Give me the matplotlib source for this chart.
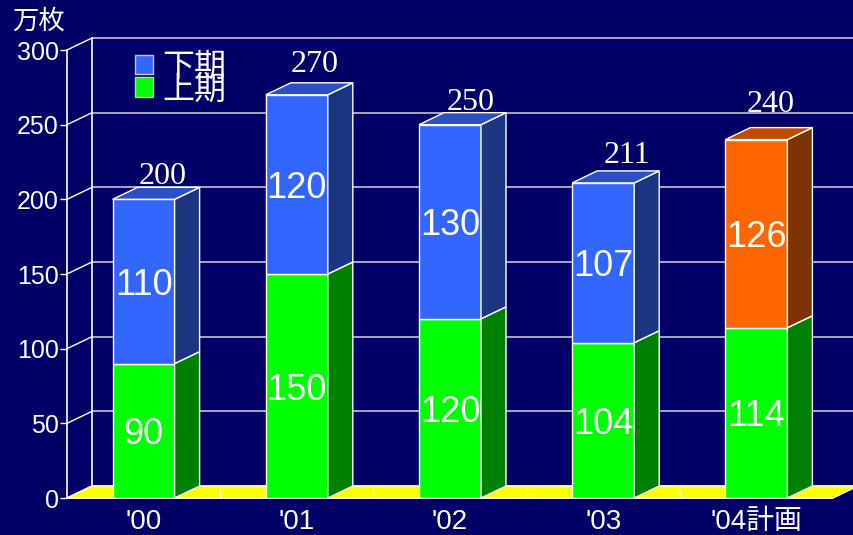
import numpy as np
import matplotlib
matplotlib.use("Agg")
import matplotlib.pyplot as plt
from matplotlib.patches import Polygon, Patch

plt.rcParams['font.family'] = ['Liberation Sans', 'Noto Sans CJK JP']

# 枚数 (万枚)
years = ["'00", "'01", "'02", "'03", "'04計画"]
first_half = [90, 150, 120, 104, 114]     # 上期
second_half = [110, 120, 130, 107, 126]   # 下期
totals = [a + b for a, b in zip(first_half, second_half)]
y_ticks = [0, 50, 100, 150, 200, 250, 300]

BG = "#000066"
GRID = "#D4D4D4"
GREEN, GREEN_SIDE = "#00FF00", "#008000"
BLUE, BLUE_SIDE, BLUE_TOP = "#3366FF", "#1C3580", "#2A50C4"
ORANGE, ORANGE_SIDE, ORANGE_TOP = "#FF6600", "#7F3300", "#C04C00"

W_PX, H_PX = 854, 535
fig = plt.figure(figsize=(W_PX / 100, H_PX / 100), dpi=100, facecolor=BG)
ax = fig.add_axes([67 / W_PX, 37 / H_PX, 766 / W_PX, 448 / H_PX])
ax.set_facecolor("none")
ax.set_xlim(-0.5, 4.5)
ax.set_ylim(0, 300)

px_x = 766 / 5          # pixels per category
px_y = 448 / 300        # pixels per unit
DX = 25 / px_x          # depth offset of the 3-D box
DY = 12 / px_y
BW = 62 / px_x          # bar width

x = np.arange(len(years))
x0, x1 = -0.5, 4.5

# floor
ax.add_patch(Polygon([(x0, 0), (x1, 0), (x1 + DX, DY), (x0 + DX, DY)],
                     closed=True, fc="#FFFF00", ec="white", lw=1, zorder=1,
                     clip_on=False))

# back wall grid and left side wall
for v in y_ticks:
    ax.plot([x0 + DX, x1 + DX], [v + DY, v + DY], color=GRID, lw=1.1,
            zorder=0.5, clip_on=False)
    ax.plot([x0, x0 + DX], [v, v + DY], color="white", lw=1, zorder=0.5,
            clip_on=False)
ax.plot([x0 + DX, x0 + DX], [DY, 300 + DY], color="white", lw=1.2,
        zorder=0.6, clip_on=False)

# front faces
top_colors = [BLUE] * 4 + [ORANGE]
ax.bar(x, first_half, BW, color=GREEN, edgecolor="white", lw=1, zorder=3)
ax.bar(x, second_half, BW, bottom=first_half, color=top_colors,
       edgecolor="white", lw=1, zorder=3)

# side and top faces
side_colors = [BLUE_SIDE] * 4 + [ORANGE_SIDE]
roof_colors = [BLUE_TOP] * 4 + [ORANGE_TOP]
for i in range(len(years)):
    r = x[i] + BW / 2
    l = x[i] - BW / 2
    segs = [(0, first_half[i], GREEN_SIDE),
            (first_half[i], totals[i], side_colors[i])]
    for b, t, c in segs:
        ax.add_patch(Polygon([(r, b), (r + DX, b + DY), (r + DX, t + DY), (r, t)],
                             closed=True, fc=c, ec="white", lw=1, zorder=3,
                             clip_on=False))
    t = totals[i]
    ax.add_patch(Polygon([(l, t), (r, t), (r + DX, t + DY), (l + DX, t + DY)],
                         closed=True, fc=roof_colors[i], ec="white", lw=1,
                         zorder=3, clip_on=False))

# values inside the segments
drop = 4 / px_y
for i in range(len(years)):
    ax.text(x[i], first_half[i] / 2 - drop, str(first_half[i]), ha="center",
            va="center", color="white", fontsize=26, zorder=5)
    ax.text(x[i], first_half[i] + second_half[i] / 2 - drop, str(second_half[i]),
            ha="center", va="center", color="white", fontsize=26, zorder=5)

# totals above the bars
nudge_x = [19, 18, 21, 24, 14]
nudge_y = [3, 11, 3, 8, 16]
for i in range(len(years)):
    ax.text(x[i] + nudge_x[i] / px_x, totals[i] + DY + nudge_y[i] / px_y,
            str(totals[i]), ha="center", va="baseline", color="white",
            fontsize=23, family="Liberation Serif", zorder=5)

# axes
for s in ["top", "right"]:
    ax.spines[s].set_visible(False)
ax.spines["left"].set_color("white")
ax.spines["bottom"].set_color("white")
ax.spines["left"].set_linewidth(1.2)
ax.spines["bottom"].set_linewidth(1.2)
ax.spines["bottom"].set_zorder(2)
ax.set_yticks(y_ticks)
ax.tick_params(axis="y", colors="white", length=5, width=1, labelsize=18,
               pad=1)
ax.set_xticks(x, years)
ax.set_xticks(np.arange(0.5, 4.0, 1.0), minor=True)
ax.tick_params(axis="x", which="major", length=0, colors="white",
               labelsize=20, pad=8)
ax.tick_params(axis="x", which="minor", direction="in", length=6,
               color="white", width=1)

fig.text(12 / W_PX, 1 - 21 / H_PX, "万枚", color="white", fontsize=19,
         va="center", ha="left", family="Noto Sans CJK JP")

handles = [Patch(facecolor=BLUE, edgecolor="#C8C8C8"),
           Patch(facecolor=GREEN, edgecolor="#C8C8C8")]
fig.legend(handles, ["下期", "上期"], loc="upper left",
           bbox_to_anchor=(135 / W_PX, 1 - 51 / H_PX), frameon=False,
           prop={"family": "Noto Sans CJK JP", "size": 23},
           labelcolor="white", handlelength=0.55, handleheight=0.55,
           handletextpad=0.3, labelspacing=-0.3, borderpad=0,
           borderaxespad=0)

fig.savefig("out.png", dpi=100, facecolor=BG)
